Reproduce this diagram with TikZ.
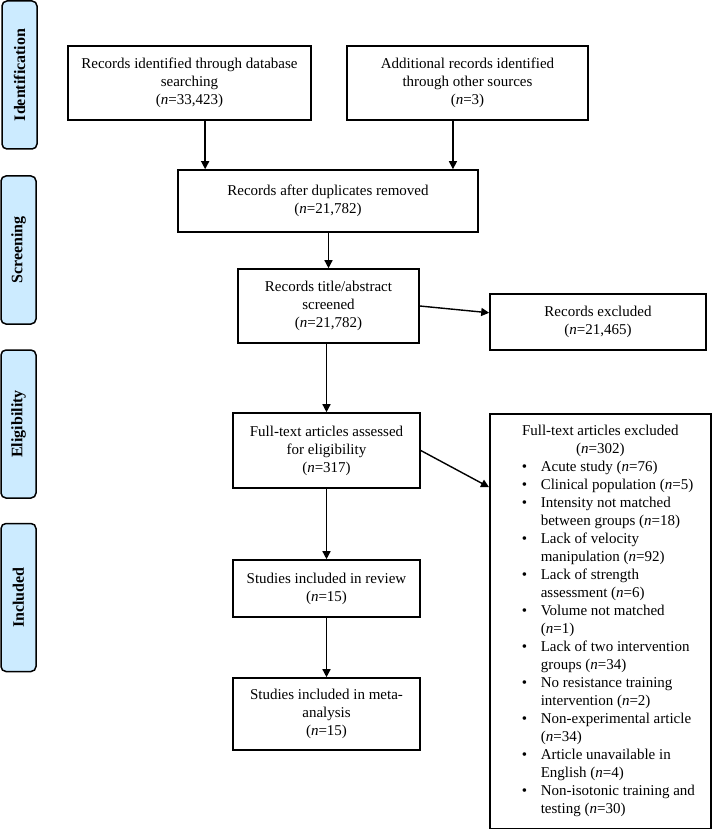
\documentclass[tikz,border=0pt]{standalone}
\usepackage{fontspec}
\setmainfont{Liberation Serif}
\usetikzlibrary{arrows.meta,calc}
\definecolor{sidefill}{RGB}{204,235,255}
\newcommand\bitem[1]{\mbox{\makebox[19pt][l]{\textbullet}#1}}
\newcommand\bcont[1]{\mbox{\hspace*{19pt}#1}}
\newcommand\nn{\textit{n}}
\begin{document}
\begin{tikzpicture}[x=1pt,y=-1pt,
  box/.style={draw, line width=1.6pt, rectangle, inner sep=0pt, align=center, font=\fontsize{15}{18}\selectfont},
  exclbox/.style={draw, line width=1.6pt, rectangle, inner sep=0pt, font=\fontsize{15}{18}\selectfont},
  side/.style={draw, line width=1.5pt, fill=sidefill, rounded corners=5pt, inner sep=0pt, minimum width=148pt, minimum height=35pt, rotate=90, font=\fontsize{16}{19}\selectfont\bfseries},
  arr/.style={line width=1.4pt, -{Triangle[length=8pt,width=8pt]}}]
\useasboundingbox (0,0) rectangle (712,829);

% phase labels
\node[side] (s1) at (19.5,75) {Identification};
\node[side] (s2) at (18.5,250) {Screening};
\node[side] (s3) at (18.5,424) {Eligibility};
\node[side] (s4) at (18.5,597.5) {Included};

% boxes
\node[box, minimum width=243pt, minimum height=74pt] (b1) at (189.5,83) {Records identified through database\\searching\\(\nn=33,423)};
\node[box, minimum width=241pt, minimum height=74pt] (b2) at (467.5,83) {Additional records identified\\through other sources\\(\nn=3)};
\node[box, minimum width=300pt, minimum height=62pt] (b3) at (328,201) {Records after duplicates removed\\(\nn=21,782)};
\node[box, minimum width=181pt, minimum height=74pt] (b4) at (328.5,306) {Records title/abstract\\screened\\(\nn=21,782)};
\node[box, minimum width=216pt, minimum height=56pt] (b5) at (598,322) {Records excluded\\(\nn=21,465)};
\node[box, minimum width=187pt, minimum height=75pt] (b6) at (326.5,450.5) {Full-text articles assessed\\for eligibility\\(\nn=317)};
\node[box, minimum width=187pt, minimum height=57pt] (b7) at (326.5,588.5) {Studies included in review\\(\nn=15)};
\node[box, minimum width=187pt, minimum height=72pt] (b8) at (326.5,714) {Studies included in meta-\\analysis\\(\nn=15)};
\node[exclbox, anchor=north west, minimum width=221pt, minimum height=415pt] (b9) at (489,413) {\parbox{157pt}{%
{\centering Full-text articles excluded\\(\nn=302)\par}
\raggedright
\bitem{Acute study (\nn=76)}\\
\bitem{Clinical population (\nn=5)}\\
\bitem{Intensity not matched}\\
\bcont{between groups (\nn=18)}\\
\bitem{Lack of velocity}\\
\bcont{manipulation (\nn=92)}\\
\bitem{Lack of strength}\\
\bcont{assessment (\nn=6)}\\
\bitem{Volume not matched}\\
\bcont{(\nn=1)}\\
\bitem{Lack of two intervention}\\
\bcont{groups (\nn=34)}\\
\bitem{No resistance training}\\
\bcont{intervention (\nn=2)}\\
\bitem{Non-experimental article}\\
\bcont{(\nn=34)}\\
\bitem{Article unavailable in}\\
\bcont{English (\nn=4)}\\
\bitem{Non-isotonic training and}\\
\bcont{testing (\nn=30)}\par}};

% connectors
\coordinate (a1) at ($(b1.south west)!0.564!(b1.south east)$);
\coordinate (a2) at ($(b2.south west)!0.44!(b2.south east)$);
\draw[arr] (a1) -- (a1 |- b3.north);
\draw[arr] (a2) -- (a2 |- b3.north);
\draw[arr] (b4.north |- b3.south) -- (b4.north);
\draw[arr] (b4.east) -- ($(b5.north west)!0.34!(b5.south west)$);
\draw[arr] (b6.north |- b4.south) -- (b6.north);
\draw[arr] (b6.east) -- ($(b9.north west)!0.178!(b9.south west)$);
\draw[arr] (b6.south) -- (b7.north);
\draw[arr] (b7.south) -- (b8.north);
\end{tikzpicture}
\end{document}
